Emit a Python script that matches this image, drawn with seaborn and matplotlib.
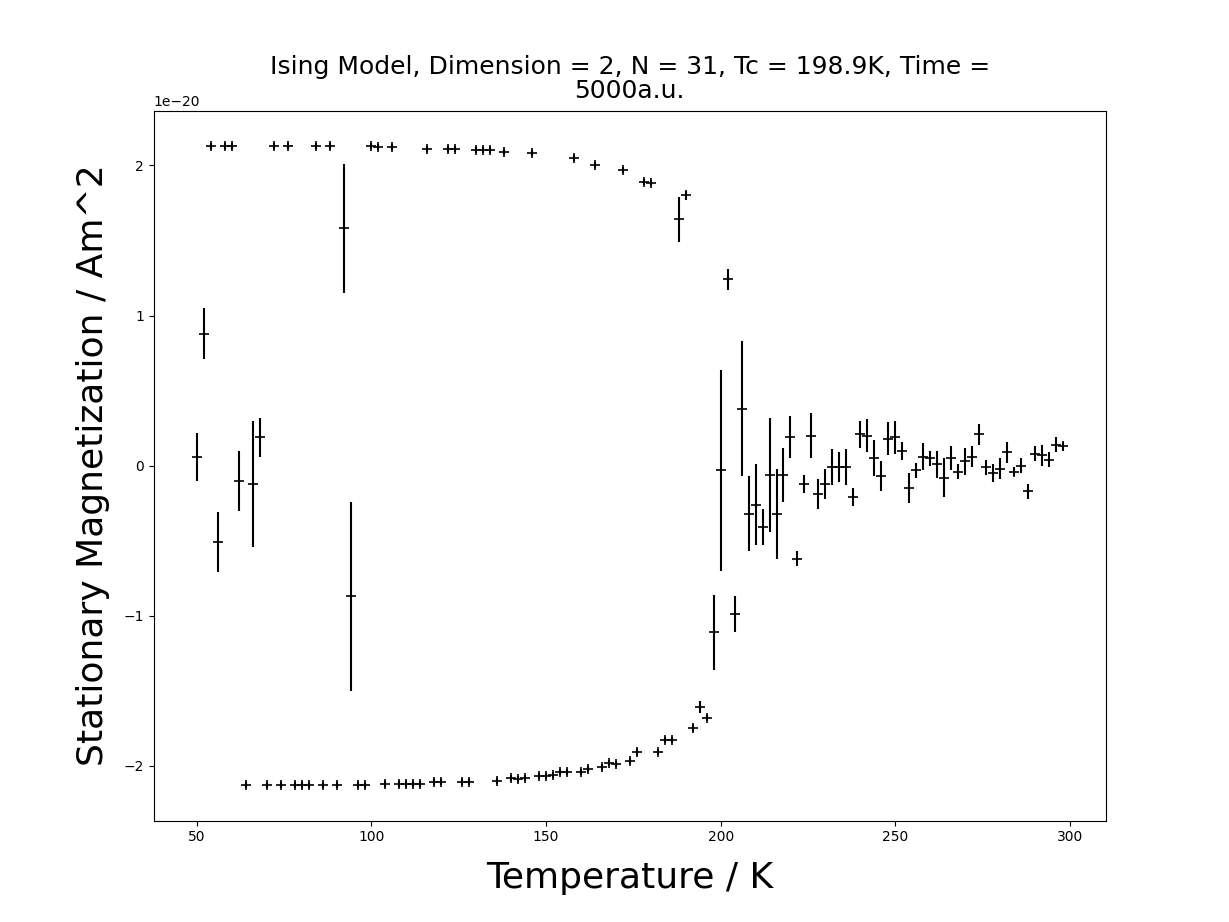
import numpy as np
import pandas as pd
import matplotlib
matplotlib.use("Agg")
import matplotlib.pyplot as plt
import seaborn as sns

# ordered branch: upper
t_up = [54, 58, 60, 72, 76, 84, 88, 92, 100, 102, 106, 116, 122, 124, 130, 132, 134, 138, 146,
        158, 164, 172, 178, 180, 188, 190, 202]
m_up = [2.13, 2.13, 2.13, 2.13, 2.13, 2.13, 2.13, 1.58, 2.13, 2.12, 2.12, 2.11, 2.11, 2.11, 2.10,
        2.10, 2.10, 2.09, 2.08, 2.05, 2.00, 1.97, 1.89, 1.88, 1.64, 1.80, 1.24]
e_up = [0.02, 0.02, 0.02, 0.02, 0.02, 0.02, 0.02, 0.43, 0.02, 0.02, 0.02, 0.02, 0.02, 0.02, 0.02,
        0.02, 0.02, 0.02, 0.02, 0.02, 0.02, 0.02, 0.02, 0.02, 0.15, 0.03, 0.07]

# ordered branch: lower
t_lo = [64, 70, 74, 78, 80, 82, 86, 90, 96, 98, 104, 108, 110, 112, 114, 118, 120, 126, 128, 136,
        140, 142, 144, 148, 150, 152, 154, 156, 160, 162, 166, 168, 170, 174, 176, 182, 184, 186,
        192, 194, 196, 198, 204]
m_lo = [-2.13, -2.13, -2.13, -2.13, -2.13, -2.13, -2.13, -2.13, -2.13, -2.13, -2.12, -2.12, -2.12,
        -2.12, -2.12, -2.11, -2.11, -2.11, -2.11, -2.10, -2.08, -2.09, -2.08, -2.07, -2.07, -2.06,
        -2.04, -2.04, -2.04, -2.02, -2.01, -1.98, -1.99, -1.97, -1.91, -1.91, -1.83, -1.83, -1.75,
        -1.61, -1.68, -1.11, -0.99]
e_lo = [0.02] * 39 + [0.04, 0.02, 0.25, 0.12]

# disordered / noisy points
t_mid = [50, 52, 56, 62, 66, 68, 94, 200, 206, 208, 210, 212, 214, 216, 218, 220, 222, 224, 226,
         228, 230, 232, 234, 236, 238, 240, 242, 244, 246, 248, 250, 252, 254, 256, 258, 260, 262,
         264, 266, 268, 270, 272, 274, 276, 278, 280, 282, 284, 286, 288, 290, 292, 294, 296, 298]
m_mid = [0.06, 0.88, -0.51, -0.10, -0.12, 0.19, -0.87, -0.03, 0.38, -0.32, -0.26, -0.41, -0.06,
         -0.32, -0.06, 0.19, -0.62, -0.12, 0.20, -0.19, -0.12, -0.01, -0.01, -0.01, -0.21, 0.21,
         0.20, 0.05, -0.07, 0.18, 0.19, 0.10, -0.15, -0.03, 0.06, 0.05, 0.01, -0.08, 0.05, -0.04,
         0.03, 0.06, 0.21, -0.01, -0.05, -0.02, 0.09, -0.04, 0.00, -0.17, 0.08, 0.07, 0.04, 0.14,
         0.13]
e_mid = [0.16, 0.17, 0.20, 0.20, 0.42, 0.13, 0.63, 0.67, 0.45, 0.25, 0.27, 0.12, 0.38, 0.30,
         0.18, 0.14, 0.05, 0.06, 0.15, 0.10, 0.10, 0.12, 0.10, 0.12, 0.06, 0.09, 0.11, 0.12, 0.10,
         0.11, 0.11, 0.06, 0.10, 0.05, 0.09, 0.05, 0.09, 0.13, 0.08, 0.05, 0.09, 0.07, 0.07, 0.05,
         0.06, 0.07, 0.07, 0.03, 0.05, 0.05, 0.05, 0.07, 0.05, 0.05, 0.03]

df = pd.DataFrame({
    "T": t_up + t_lo + t_mid,
    "M": np.array(m_up + m_lo + m_mid) * 1e-20,
    "err": np.array(e_up + e_lo + e_mid) * 1e-20,
})

sns.set_style("ticks", {"axes.edgecolor": "black", "xtick.color": "black", "ytick.color": "black",
                        "text.color": "black", "axes.labelcolor": "black"})
fig, ax = plt.subplots(figsize=(12.29, 9.22), dpi=100)
ax.errorbar(df["T"], df["M"], yerr=df["err"], fmt="none", ecolor="black", elinewidth=1.5, capsize=0)
sns.scatterplot(data=df, x="T", y="M", marker="+", color="black", s=60, linewidth=1.2, ax=ax)

ax.set_title("Ising Model, Dimension = 2, N = 31, Tc = 198.9K, Time =\n5000a.u.", fontsize=18,
             linespacing=1.0, color="black", pad=9)
ax.set_xlabel("Temperature / K", fontsize=26, labelpad=12)
ax.set_ylabel("Stationary Magnetization / Am^2", fontsize=26, labelpad=10)
ax.tick_params(labelsize=10)

fig.savefig("out.png", dpi=100)
